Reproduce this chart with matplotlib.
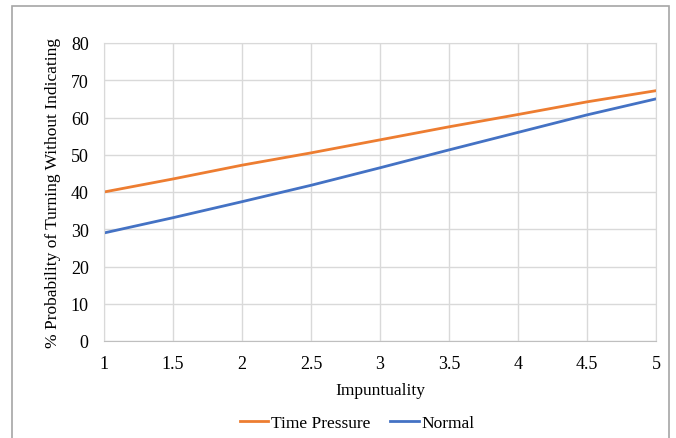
import matplotlib
matplotlib.use("Agg")
import matplotlib.pyplot as plt
from matplotlib.patches import Rectangle

impuntuality = [1, 1.5, 2, 2.5, 3, 3.5, 4, 4.5, 5]
time_pressure = [40.0, 43.5, 47.2, 50.5, 54.0, 57.5, 60.8, 64.2, 67.2]
normal = [29.0, 33.1, 37.4, 41.8, 46.5, 51.3, 56.0, 60.7, 65.0]
x_ticks = [1, 1.5, 2, 2.5, 3, 3.5, 4, 4.5, 5]
x_tick_labels = ["1", "1.5", "2", "2.5", "3", "3.5", "4", "4.5", "5"]
y_ticks = [0, 10, 20, 30, 40, 50, 60, 70, 80]

plt.rcParams['font.family'] = ['Liberation Serif', 'DejaVu Serif']
W, H = 676, 439
fig = plt.figure(figsize=(W / 100, H / 100), dpi=100)
fig.patch.set_facecolor('white')

# outer border
fig.add_artist(Rectangle((12 / W, -0.01), (669 - 12) / W, 1 - 7 / H + 0.01,
                         transform=fig.transFigure, fill=False,
                         edgecolor='#a6a6a6', linewidth=1.2))

ax = fig.add_axes([104 / W, 1 - 342 / H, (656 - 104) / W, (342 - 44) / H])
ax.plot(impuntuality, time_pressure, color='#ed7d31', linewidth=2, label='Time Pressure')
ax.plot(impuntuality, normal, color='#4472c4', linewidth=2, label='Normal')

ax.set_xlim(1, 5)
ax.set_ylim(0, 80)
ax.set_xticks(x_ticks)
ax.set_xticklabels(x_tick_labels)
ax.set_yticks(y_ticks)
ax.grid(True, color='#d9d9d9', linewidth=1)
ax.set_axisbelow(True)
for s in ['top', 'right']:
    ax.spines[s].set_color('#d9d9d9')
ax.spines['left'].set_color('#d9d9d9')
ax.spines['bottom'].set_color('#bfbfbf')
ax.tick_params(length=0, labelsize=13, colors='black')
ax.tick_params(axis='y', pad=11)
ax.tick_params(axis='x', pad=10)

ax.set_xlabel('Impuntuality', fontsize=12.5, labelpad=7)
ax.set_ylabel('% Probability of Turning Without Indicating', fontsize=12.5, labelpad=7)

fig.legend(loc='center', bbox_to_anchor=(357 / W, 1 - 424 / H), ncol=2, frameon=False,
           fontsize=12.5, handlelength=1.65, handletextpad=0.15, columnspacing=1.15)

fig.savefig('out.png', dpi=100)
